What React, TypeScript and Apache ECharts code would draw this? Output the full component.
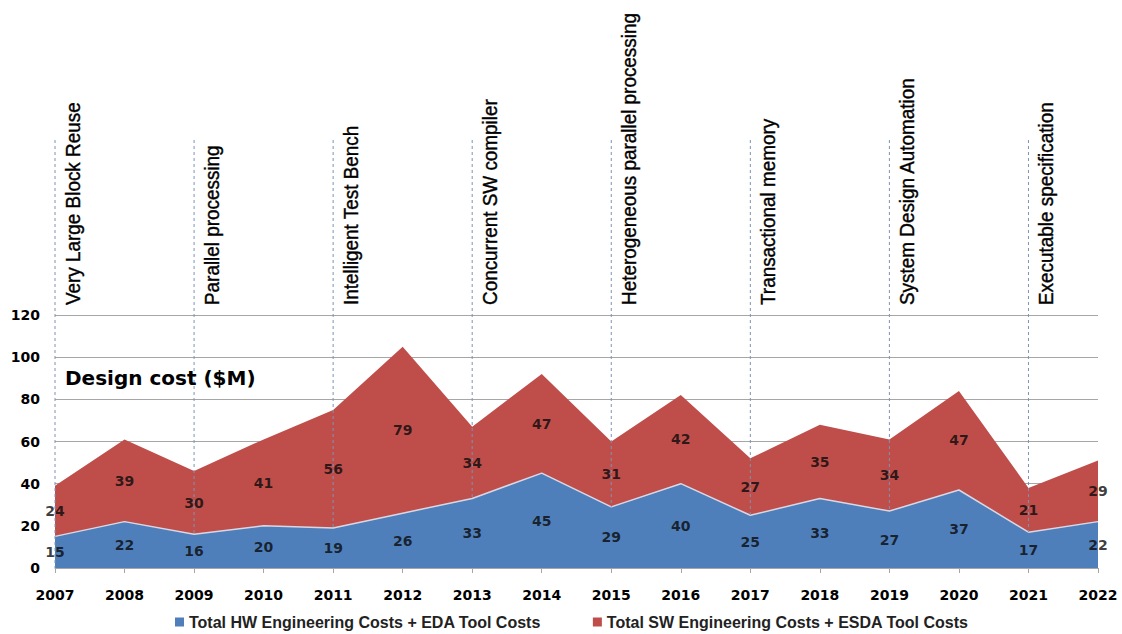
import React, { useEffect, useRef } from "react";
import * as echarts from "echarts";

const years = ["2007","2008","2009","2010","2011","2012","2013","2014","2015","2016","2017","2018","2019","2020","2021","2022"];
const hwCosts = [15,22,16,20,19,26,33,45,29,40,25,33,27,37,17,22];
const swCosts = [24,39,30,41,56,79,34,47,31,42,27,35,34,47,21,29];
const milestoneYears = ["2007","2009","2011","2013","2015","2017","2019","2021"];
const milestoneTexts = [
  "Very Large Block Reuse",
  "Parallel processing",
  "Intelligent Test Bench",
  "Concurrent SW compiler",
  "Heterogeneous parallel processing",
  "Transactional memory",
  "System Design Automation",
  "Executable specification",
];
const hwName = "Total HW Engineering Costs + EDA Tool Costs";
const swName = "Total SW Engineering Costs + ESDA Tool Costs";

const BLUE = "#4f7fbb";
const RED = "#bf4e4b";
const LABEL_FONT = "'DejaVu Sans', Verdana, sans-serif";
const NARROW = "'Liberation Sans Narrow', 'Arial Narrow', 'Liberation Sans', sans-serif";

export default function App() {
  const ref = useRef<HTMLDivElement>(null);
  useEffect(() => {
    if (!ref.current) return;
    const chart = echarts.init(ref.current, undefined, { renderer: "svg" });
    const dataLabel = {
      show: true,
      position: "inside",
      color: "#0a0a0a",
      fontFamily: LABEL_FONT,
      fontWeight: "bold",
      fontSize: 14,
      formatter: (p: any) => String(p.data[2]),
    };
    chart.setOption({
      animation: false,
      grid: { left: 55, right: 24, top: 315, bottom: 66 },
      legend: {
        data: [hwName, swName],
        left: 170,
        top: 609,
        itemWidth: 9,
        itemHeight: 9,
        itemGap: 52,
        icon: "rect",
        textStyle: { fontFamily: NARROW, fontWeight: "bold", fontSize: 16, color: "#222" },
      },
      xAxis: {
        type: "category",
        data: years,
        boundaryGap: false,
        axisLine: { lineStyle: { color: "#a6a6a6", width: 1 } },
        axisTick: { show: true, length: 5, lineStyle: { color: "#a6a6a6" } },
        axisLabel: { color: "#000", fontFamily: LABEL_FONT, fontWeight: "bold", fontSize: 14, margin: 20 },
        splitLine: { show: false },
      },
      yAxis: {
        type: "value",
        min: 0,
        max: 120,
        interval: 20,
        axisLine: { show: false },
        axisTick: { show: false },
        axisLabel: { color: "#000", fontFamily: LABEL_FONT, fontWeight: "bold", fontSize: 14, margin: 15 },
        splitLine: { lineStyle: { color: "#a6a6a6", width: 1.2 } },
      },
      series: [
        {
          name: hwName,
          type: "line",
          stack: "total",
          data: hwCosts,
          symbol: "none",
          color: BLUE,
          lineStyle: { color: "#d8d8e4", width: 1.5 },
          areaStyle: { color: BLUE, opacity: 1 },
          z: 2,
        },
        {
          name: swName,
          type: "line",
          stack: "total",
          data: swCosts,
          symbol: "none",
          color: RED,
          lineStyle: { width: 0 },
          areaStyle: { color: RED, opacity: 1 },
          z: 1,
        },
        {
          type: "scatter",
          symbolSize: 0,
          data: years.map((y, i) => [i, hwCosts[i] / 2, hwCosts[i]]),
          label: dataLabel,
          z: 5,
        },
        {
          type: "scatter",
          symbolSize: 0,
          data: years.map((y, i) => [i, hwCosts[i] + swCosts[i] / 2, swCosts[i]]),
          label: dataLabel,
          z: 5,
        },
      ],
    });

    const graphics: any[] = [];
    milestoneYears.forEach((yr, k) => {
      const idx = years.indexOf(yr);
      const bottomVal = k === 0 ? 0 : hwCosts[idx];
      const [px, pyBottom] = chart.convertToPixel({ gridIndex: 0 }, [idx, bottomVal]) as number[];
      graphics.push({
        type: "line",
        z: 10,
        shape: { x1: px, y1: 140, x2: px, y2: pyBottom },
        style: { stroke: "#7d93b3", lineWidth: 1, lineDash: [3, 3] },
      });
      graphics.push({
        type: "text",
        z: 10,
        x: px + 7,
        y: 305,
        rotation: Math.PI / 2,
        scaleX: 0.9,
        style: {
          text: milestoneTexts[k],
          fontFamily: NARROW,
          fontSize: 21,
          fill: "#000",
          stroke: "#000",
          lineWidth: 0.4,
          align: "left",
          verticalAlign: "top",
        },
      });
    });
    graphics.push({
      type: "text",
      x: 65,
      y: 378,
      z: 10,
      style: {
        text: "Design cost ($M)",
        fontFamily: LABEL_FONT,
        fontWeight: "bold",
        fontSize: 20,
        fill: "#000",
        align: "left",
        verticalAlign: "middle",
      },
    });
    chart.setOption({ graphic: graphics });
    return () => chart.dispose();
  }, []);
  return <div ref={ref} style={{ width: 1122, height: 634, position: "absolute", left: 0, top: 0 }} />;
}
